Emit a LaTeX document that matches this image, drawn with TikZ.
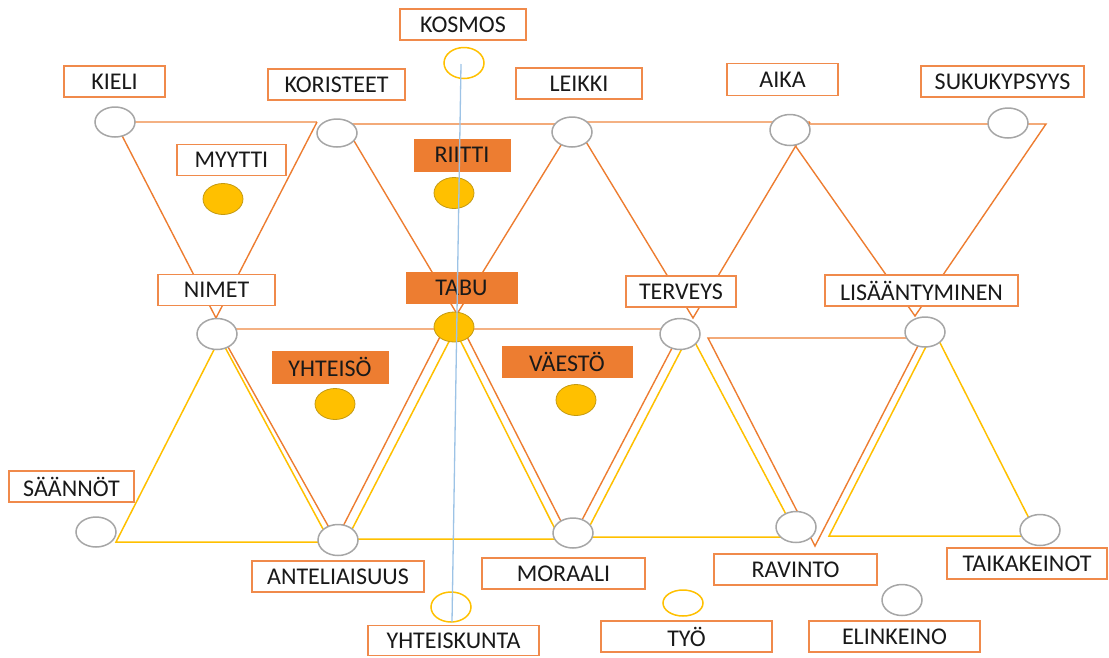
\documentclass[tikz,border=0pt]{standalone}
\usepackage{fontspec}
\setmainfont{Carlito}
\usetikzlibrary{shapes.geometric}
\definecolor{orng}{HTML}{ED7D31}
\definecolor{peach}{HTML}{F4B183}
\definecolor{boxedge}{HTML}{F08A4B}
\definecolor{gold}{HTML}{FFC000}
\definecolor{goldedge}{HTML}{C49A12}
\definecolor{grayedge}{HTML}{A6A6A6}
\definecolor{skyline}{HTML}{9DC3E6}
\begin{document}
\begin{tikzpicture}[x=1pt,y=-1pt,
  lbl/.style={font=\fontsize{24}{28}\selectfont,text=black!90,inner sep=0pt},
  lblbox/.style={lbl,draw=boxedge,line width=1.6pt,fill=white},
  fillbox/.style={lbl,draw=orng,line width=1pt,fill=orng},
  gell/.style={ellipse,draw=grayedge,line width=1.5pt,fill=white,inner sep=0pt,minimum width=40pt,minimum height=30pt},
  yell/.style={ellipse,draw=gold,line width=1.5pt,inner sep=0pt,minimum width=40pt,minimum height=30pt},
  dot/.style={ellipse,draw=goldedge,line width=0.8pt,fill=gold,inner sep=0pt,minimum width=40pt,minimum height=31pt},
  oline/.style={draw=orng,line width=1.4pt},
  pline/.style={draw=peach,line width=2.4pt},
  yline/.style={draw=gold,line width=1.5pt},
  axis/.style={draw=skyline,line width=1.3pt}
]
\useasboundingbox (0,0) rectangle (1109,657);

% ---- vertices of the upper (orange) triangles
\coordinate (t1a) at (115,122);  \coordinate (t1b) at (317,122);  \coordinate (t1c) at (216,318);
\coordinate (t2a) at (344,124);  \coordinate (t2b) at (574,124);  \coordinate (t2c) at (457,314);
\coordinate (t3a) at (574,122);  \coordinate (t3b) at (810,122);  \coordinate (t3c) at (693,318);
\coordinate (t4a) at (780,124);  \coordinate (t4b) at (1046,124); \coordinate (t4c) at (915,316);
% ---- vertices of the lower orange triangles
\coordinate (o1a) at (218,329);  \coordinate (o1b) at (444,329);  \coordinate (o1c) at (336,540);
\coordinate (o2a) at (463,329);  \coordinate (o2b) at (682,329);  \coordinate (o2c) at (571,541);
\coordinate (o3a) at (708,338);  \coordinate (o3b) at (922,338);  \coordinate (o3c) at (815,546);
% ---- vertices of the lower yellow triangles
\coordinate (y1a) at (220,338);  \coordinate (y1b) at (116,542);  \coordinate (y1c) at (330,542);
\coordinate (y2a) at (455,330);  \coordinate (y2b) at (347,539);  \coordinate (y2c) at (560,539);
\coordinate (y3a) at (690,333);  \coordinate (y3b) at (584,537);  \coordinate (y3c) at (798,537);
\coordinate (y4a) at (934,331);  \coordinate (y4b) at (829,536);  \coordinate (y4c) at (1038,536);

% upper row
\draw[pline] (t1a) -- (t1b);
\draw[oline] (t1a) -- (t1c) -- (t1b);
\draw[oline] (t2a) -- (t2b) -- (t2c) -- cycle;
\draw[pline] (t3a) -- (t3b);
\draw[oline] (t3a) -- (t3c) -- (t3b);
\draw[oline] (t4a) -- (t4b) -- (t4c) -- cycle;

% lower row, yellow
\draw[yline] (y1a) -- (y1b) -- (y1c) -- cycle;
\draw[yline] (y2a) -- (y2b) -- (y2c) -- cycle;
\draw[yline] (y3a) -- (y3b) -- (y3c) -- cycle;
\draw[yline] (y4a) -- (y4b) -- (y4c) -- cycle;

% lower row, orange
\draw[pline] (o1a) -- (o1b);
\draw[pline] (o2a) -- (o2b);
\draw[oline] (o1a) -- (o1c) -- (o1b);
\draw[oline] (o2a) -- (o2c) -- (o2b);
\draw[oline] (o3a) -- (o3b) -- (o3c) -- cycle;

% ---- grey joints
\node[gell] (kieliE) at (115,122) {};
\node[gell,minimum height=28pt] (koristeetE) at (337,133) {};
\node[gell] (leikkiE) at (572,132) {};
\node[gell,minimum height=31pt] (aikaE) at (790,130) {};
\node[gell] (sukuE) at (1008,123) {};
\node[gell,minimum height=31pt] (nimetE) at (217,334) {};
\node[gell,minimum height=31pt] (terveysE) at (680,334) {};
\node[gell] (lisaE) at (925,332) {};
\node[gell] (saannotE) at (96,532) {};
\node[gell,minimum height=31pt] (antelE) at (338,540) {};
\node[gell] (moraaliE) at (573,533) {};
\node[gell,minimum height=31pt] (ravintoE) at (796,527) {};
\node[gell,minimum height=31pt] (taikaE) at (1040,530) {};
\node[gell,minimum height=31pt] (elinE) at (902,600) {};

% ---- yellow rings
\node[yell,minimum height=31pt] (kosmosE) at (464,63) {};
\node[yell] (yhtkE) at (451,607) {};
\node[yell,minimum height=26pt] (tyoE) at (683,603) {};

% ---- gold dots
\node[dot] (myyttiD) at (223,199) {};
\node[dot] (riittiD) at (454,193) {};
\node[dot,minimum height=30pt] (tabuD) at (454,327) {};
\node[dot] (yhteisoD) at (335,404) {};
\node[dot] (vaestoD) at (576,400) {};

% ---- labels
\node[lblbox,minimum width=126pt,minimum height=31pt] (kosmos) at (463,24.5) {KOSMOS};
\node[lblbox,minimum width=101pt,minimum height=31pt] (kieli) at (114.5,81.5) {KIELI};
\node[lblbox,minimum width=137pt,minimum height=31pt] (koristeet) at (336.5,84.5) {KORISTEET};
\node[lblbox,minimum width=126pt,minimum height=31pt] (leikki) at (579,83.5) {LEIKKI};
\node[lblbox,minimum width=111pt,minimum height=32pt] (aika) at (782.5,79.5) {AIKA};
\node[lblbox,minimum width=163pt,minimum height=31pt] (suku) at (1002.5,81.5) {SUKUKYPSYYS};
\node[lblbox,minimum width=109pt,minimum height=31pt] (myytti) at (231.5,160) {MYYTTI};
\node[fillbox,minimum width=96pt,minimum height=32pt] (riitti) at (462,155) {RIITTI};
\node[lblbox,minimum width=117pt,minimum height=31pt] (nimet) at (216.5,290) {NIMET};
\node[fillbox,minimum width=111pt,minimum height=31pt] (tabu) at (461.5,287.5) {TABU};
\node[lblbox,minimum width=110pt,minimum height=31pt] (terveys) at (681,291.5) {TERVEYS};
\node[lblbox,minimum width=193pt,minimum height=31pt] (lisa) at (921.5,290.5) {LISÄÄNTYMINEN};
\node[fillbox,minimum width=116pt,minimum height=32pt] (yhteiso) at (330,367) {YHTEISÖ};
\node[fillbox,minimum width=130pt,minimum height=31pt] (vaesto) at (567,361.5) {VÄESTÖ};
\node[lblbox,minimum width=125pt,minimum height=31pt] (saannot) at (71.5,486.5) {SÄÄNNÖT};
\node[lblbox,minimum width=172pt,minimum height=31pt] (antel) at (338,576.5) {ANTELIAISUUS};
\node[lblbox,minimum width=163pt,minimum height=31pt] (moraali) at (563.5,573.5) {MORAALI};
\node[lblbox,minimum width=163pt,minimum height=31pt] (ravinto) at (795.5,569.5) {RAVINTO};
\node[lblbox,minimum width=160pt,minimum height=31pt] (taika) at (1027,563.5) {TAIKAKEINOT};
\node[lblbox,minimum width=171pt,minimum height=30pt] (yhtk) at (453.5,640.5) {YHTEISKUNTA};
\node[lblbox,minimum width=171pt,minimum height=31pt] (tyo) at (686.5,636.5) {TYÖ};
\node[lblbox,minimum width=171pt,minimum height=31pt] (elin) at (894.5,636.5) {ELINKEINO};

% ---- vertical axis through the middle
\coordinate (axtop) at (461,64);
\coordinate (axbot) at (452,622);
\draw[axis] (axtop) -- (axbot);
\end{tikzpicture}
\end{document}
